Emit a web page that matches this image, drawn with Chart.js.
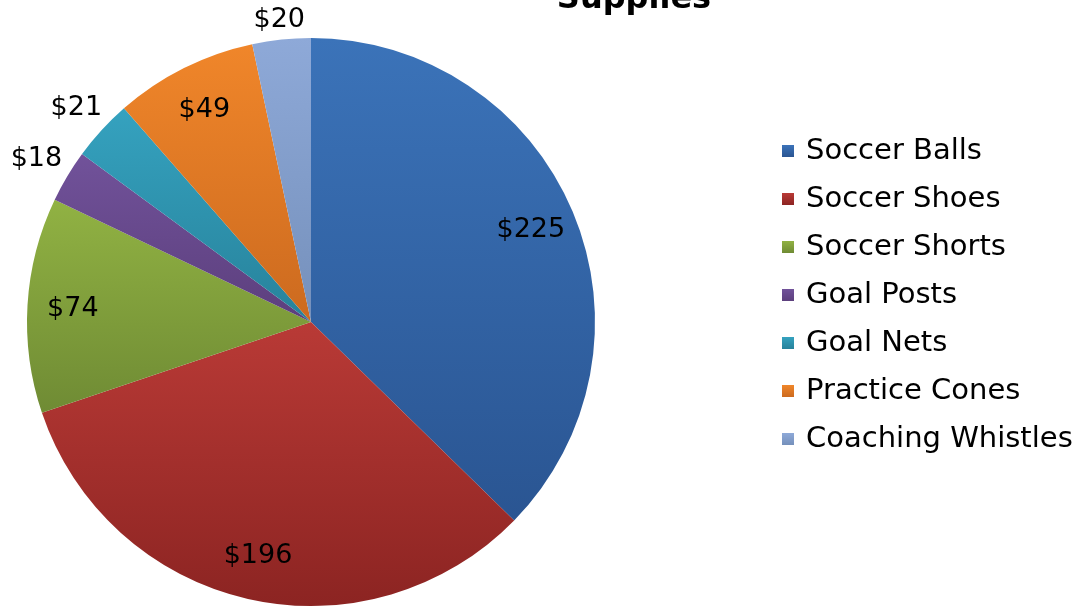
<!DOCTYPE html>
<html>
<head>
<meta charset="utf-8">
<script src="https://cdn.jsdelivr.net/npm/chart.js@4"></script>
<style>
  html, body { margin: 0; padding: 0; background: #fff; }
  #wrap { position: relative; width: 1079px; height: 609px; overflow: hidden; }
  #legend { position: absolute; left: 782px; top: 125px; font-family: 'DejaVu Sans', Verdana, sans-serif; font-size: 29px; color: #000; }
  #legend div { height: 48px; line-height: 48px; white-space: nowrap; }
  #legend span.box { display: inline-block; width: 12px; height: 12px; margin-right: 12px; vertical-align: 2px; }
</style>
</head>
<body>
<div id="wrap">
  <canvas id="pieChart" width="1079" height="609"></canvas>
  <div id="legend"></div>
</div>
<script>
// Data
const labels = ['Soccer Balls', 'Soccer Shoes', 'Soccer Shorts', 'Goal Posts', 'Goal Nets', 'Practice Cones', 'Coaching Whistles'];
const amounts = [225, 196, 74, 18, 21, 49, 20];
const topColors = ['#3b73b9', '#b93a36', '#91b243', '#71529a', '#35a2bf', '#f0862a', '#8ea9d8'];
const bottomColors = ['#2a5592', '#8c2422', '#6f8b34', '#5c3f7d', '#27829b', '#cc6a1f', '#7590bb'];
const titleText = 'Supplies';

const total = amounts.reduce((a, b) => a + b, 0);

// legend
const legendEl = document.getElementById('legend');
labels.forEach((name, i) => {
    const row = document.createElement('div');
    const box = document.createElement('span');
    box.className = 'box';
    box.style.background = 'linear-gradient(' + topColors[i] + ', ' + bottomColors[i] + ')';
    row.appendChild(box);
    row.appendChild(document.createTextNode(name));
    legendEl.appendChild(row);
});

// vertical gradient per slice, fitted to the slice's own height
const sliceGradients = {
    id: 'sliceGradients',
    beforeDatasetsDraw(chart) {
        const ctx = chart.ctx;
        chart.getDatasetMeta(0).data.forEach((arc, i) => {
            const p = arc.getProps(['x', 'y', 'startAngle', 'endAngle', 'outerRadius']);
            let ys = [p.y, p.y + Math.sin(p.startAngle) * p.outerRadius, p.y + Math.sin(p.endAngle) * p.outerRadius];
            const has = a => {
                for (let k = -2; k <= 2; k++) {
                    const t = a + k * 2 * Math.PI;
                    if (t >= p.startAngle && t <= p.endAngle) return true;
                }
                return false;
            };
            if (has(Math.PI / 2)) ys.push(p.y + p.outerRadius);
            if (has(-Math.PI / 2)) ys.push(p.y - p.outerRadius);
            const g = ctx.createLinearGradient(0, Math.min(...ys), 0, Math.max(...ys));
            g.addColorStop(0, topColors[i]);
            g.addColorStop(1, bottomColors[i]);
            arc.options.backgroundColor = g;
        });
    }
};

// value labels + title
const valueLabels = {
    id: 'valueLabels',
    afterDatasetsDraw(chart) {
        const ctx = chart.ctx;
        ctx.save();
        ctx.font = '27px "DejaVu Sans", Verdana, sans-serif';
        ctx.fillStyle = '#000';
        ctx.textAlign = 'center';
        ctx.textBaseline = 'middle';
        chart.getDatasetMeta(0).data.forEach((arc, i) => {
            const p = arc.getProps(['x', 'y', 'startAngle', 'endAngle', 'outerRadius']);
            const mid = (p.startAngle + p.endAngle) / 2;
            const ux = Math.cos(mid), uy = Math.sin(mid);
            const text = '$' + amounts[i];
            let d;
            if (amounts[i] / total < 0.05) {
                const w = ctx.measureText(text).width, h = 19;
                d = p.outerRadius + 9 + Math.abs(ux) * w / 2 + Math.abs(uy) * h / 2;
            } else {
                d = p.outerRadius * 0.84;
            }
            ctx.fillText(text, p.x + ux * d, p.y + uy * d + 1);
        });
        ctx.font = 'bold 32px "DejaVu Sans", Verdana, sans-serif';
        ctx.textBaseline = 'alphabetic';
        ctx.fillText(titleText, 634, 8);
        ctx.restore();
    }
};

new Chart(document.getElementById('pieChart'), {
    type: 'pie',
    data: {
        labels: labels,
        datasets: [{
            data: amounts,
            backgroundColor: topColors,
            borderWidth: 0
        }]
    },
    options: {
        responsive: false,
        animation: false,
        layout: { padding: { left: 27, right: 484, top: 38, bottom: 3 } },
        plugins: {
            legend: { display: false },
            tooltip: { enabled: false }
        }
    },
    plugins: [sliceGradients, valueLabels]
});
</script>
</body>
</html>
